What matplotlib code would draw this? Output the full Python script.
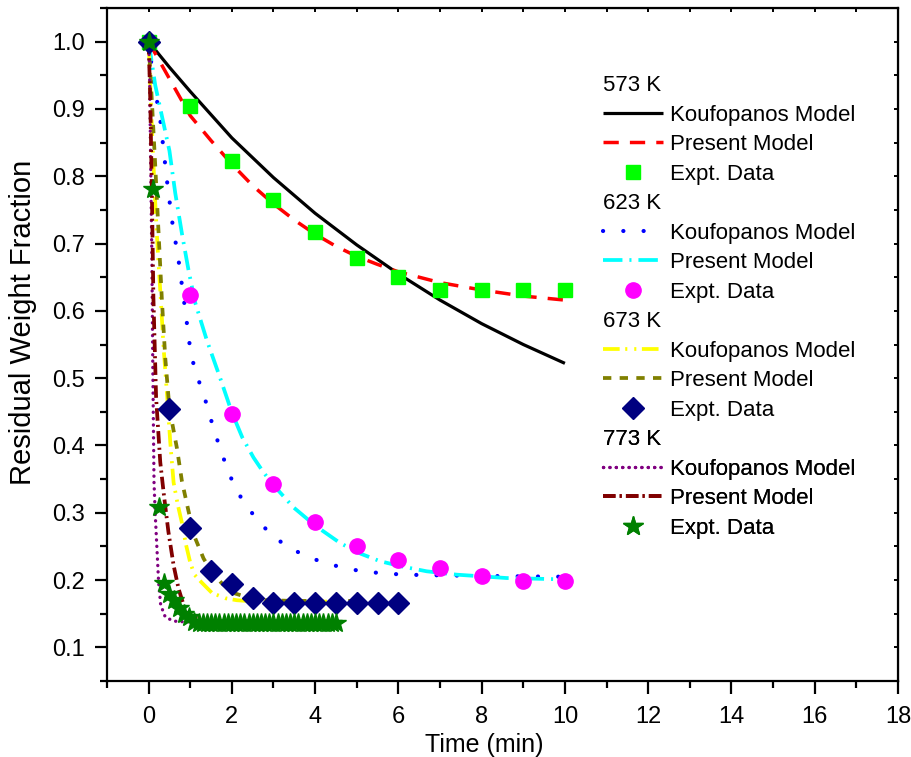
import matplotlib
matplotlib.use("Agg")
import matplotlib.pyplot as plt
from matplotlib.ticker import MultipleLocator, FormatStrFormatter

plt.rcParams['font.family'] = ['Liberation Sans', 'DejaVu Sans']
plt.rcParams['lines.scale_dashes'] = False

# ---- 573 K ----
t_573_kouf = [0, 0.5, 1, 2, 3, 4, 5, 6, 7, 8, 9, 10]
w_573_kouf = [1.0, 0.962, 0.926, 0.857, 0.798, 0.745, 0.698, 0.655, 0.616, 0.581, 0.550, 0.522]
t_573_pres = [0, 0.5, 1, 1.5, 2, 2.5, 3, 3.5, 4, 4.5, 5, 5.5, 6, 7, 8, 9, 10]
w_573_pres = [1.0, 0.945, 0.890, 0.853, 0.818, 0.786, 0.759, 0.735, 0.714, 0.696, 0.681,
              0.669, 0.658, 0.642, 0.631, 0.622, 0.616]
t_573_expt = [0, 1, 2, 3, 4, 5, 6, 7, 8, 9, 10]
w_573_expt = [1.0, 0.905, 0.823, 0.764, 0.717, 0.679, 0.651, 0.631, 0.631, 0.631, 0.631]

# ---- 623 K ----
t_623_kouf = [0, 0.12, 0.28, 0.44, 0.56, 0.72, 0.9, 0.96, 1.04, 1.12, 1.2, 1.36, 1.49, 1.64,
              1.8, 1.96, 2.24, 2.6, 3.0, 3.44, 3.88, 4.32, 4.76, 5.24, 5.68, 6.12, 7.0, 8.2, 9.7, 10]
w_623_kouf = [1.0, 0.941, 0.884, 0.794, 0.735, 0.675, 0.592, 0.560, 0.530, 0.512, 0.497, 0.468,
              0.440, 0.410, 0.381, 0.354, 0.320, 0.290, 0.264, 0.246, 0.233, 0.224, 0.217, 0.212,
              0.210, 0.208, 0.207, 0.206, 0.205, 0.205]
t_623_pres = [0, 0.16, 0.5, 0.64, 0.8, 0.96, 1.12, 1.4, 1.72, 2.0, 2.25, 2.52, 2.76, 3.0, 3.48,
              4.0, 4.6, 5.1, 5.56, 6.1, 6.68, 7.4, 8.6, 10]
w_623_pres = [1.0, 0.935, 0.838, 0.775, 0.715, 0.660, 0.612, 0.556, 0.500, 0.449, 0.412, 0.382,
              0.360, 0.341, 0.308, 0.281, 0.255, 0.239, 0.228, 0.220, 0.213, 0.208, 0.203, 0.201]
t_623_expt = [0, 1, 2, 3, 4, 5, 6, 7, 8, 9, 10]
w_623_expt = [1.0, 0.624, 0.447, 0.343, 0.286, 0.250, 0.230, 0.218, 0.206, 0.199, 0.199]

# ---- 673 K ----
t_673_kouf = [0, 0.05, 0.1, 0.16, 0.22, 0.29, 0.36, 0.44, 0.52, 0.6, 0.7, 0.8, 0.9, 1.0, 1.1,
              1.28, 1.52, 1.84, 2.12, 2.6, 3, 4, 5]
w_673_kouf = [1.0, 0.92, 0.84, 0.76, 0.69, 0.62, 0.545, 0.478, 0.405, 0.345, 0.312, 0.285, 0.252,
              0.226, 0.208, 0.196, 0.181, 0.173, 0.170, 0.168, 0.168, 0.168, 0.168]
t_673_pres = [0, 0.08, 0.16, 0.24, 0.32, 0.4, 0.5, 0.68, 0.8, 0.96, 1.12, 1.32, 1.52, 1.76,
              2.08, 2.44, 2.84, 3.5, 4, 5]
w_673_pres = [1.0, 0.91, 0.815, 0.715, 0.615, 0.53, 0.455, 0.396, 0.347, 0.302, 0.262, 0.232,
              0.212, 0.195, 0.180, 0.173, 0.170, 0.169, 0.169, 0.169]
t_673_expt = [0, 0.5, 1, 1.5, 2, 2.5, 3, 3.5, 4, 4.5, 5, 5.5, 6]
w_673_expt = [1.0, 0.454, 0.278, 0.213, 0.194, 0.174, 0.166, 0.166, 0.166, 0.166, 0.166, 0.166, 0.166]

# ---- 773 K ----
t_773_kouf = [0, 0.02, 0.05, 0.08, 0.1, 0.13, 0.16, 0.2, 0.24, 0.29, 0.4, 0.6, 0.84, 1.0]
w_773_kouf = [1.0, 0.969, 0.819, 0.670, 0.521, 0.345, 0.297, 0.247, 0.197, 0.163, 0.145, 0.139,
              0.138, 0.138]
t_773_pres = [0, 0.04, 0.08, 0.115, 0.18, 0.28, 0.37, 0.475, 0.6, 0.72, 0.84, 1.0, 1.28, 1.6,
              2.0, 3.0, 4.5]
w_773_pres = [1.0, 0.915, 0.77, 0.62, 0.471, 0.375, 0.325, 0.272, 0.222, 0.187, 0.163, 0.148,
              0.140, 0.137, 0.136, 0.136, 0.136]
t_773_expt = [0, 0.115, 0.26, 0.37, 0.48, 0.6, 0.72, 0.84, 0.96, 1.1, 1.2, 1.3, 1.4, 1.5, 1.6,
              1.7, 1.8, 1.9, 2.0, 2.1, 2.2, 2.3, 2.4, 2.5, 2.6, 2.7, 2.8, 2.9, 3.0, 3.1, 3.2,
              3.3, 3.4, 3.5, 3.6, 3.7, 3.8, 3.9, 4.0, 4.1, 4.2, 4.3, 4.4, 4.5]
w_773_expt = [1.0, 0.781, 0.309, 0.195, 0.180, 0.170, 0.158, 0.150, 0.145, 0.138, 0.136, 0.136,
              0.136, 0.136, 0.136, 0.136, 0.136, 0.136, 0.136, 0.136, 0.136, 0.136, 0.136, 0.136,
              0.136, 0.136, 0.136, 0.136, 0.136, 0.136, 0.136, 0.136, 0.136, 0.136, 0.136, 0.136,
              0.136, 0.136, 0.136, 0.136, 0.136, 0.136, 0.136, 0.136]

temps = ["573 K", "623 K", "673 K", "773 K"]
LBL_K = "Koufopanos Model"
LBL_P = "Present Model"
LBL_E = "Expt. Data"

FS = 16

fig = plt.figure(figsize=(9.12, 7.57), dpi=100)
ax = fig.add_axes([0.1173, 0.1004, 0.8673, 0.889])

# model curves
k573, = ax.plot(t_573_kouf, w_573_kouf, color='black', lw=2.3, solid_capstyle='butt')
p573, = ax.plot(t_573_pres, w_573_pres, color='red', lw=2.5, dashes=(11, 8))
k623, = ax.plot(t_623_kouf, w_623_kouf, color='blue', lw=3.0, dashes=(0.1, 14.5),
                dash_capstyle='round')
p623, = ax.plot(t_623_pres, w_623_pres, color='cyan', lw=2.7, dashes=(14, 5, 1.5, 5))
k673, = ax.plot(t_673_kouf, w_673_kouf, color='yellow', lw=2.7, dashes=(12, 4, 1.5, 5, 1.5, 4))
p673, = ax.plot(t_673_pres, w_673_pres, color='olive', lw=2.7, dashes=(6, 6))
k773, = ax.plot(t_773_kouf, w_773_kouf, color='purple', lw=2.4, dashes=(0.1, 4.5),
                dash_capstyle='round')
p773, = ax.plot(t_773_pres, w_773_pres, color='maroon', lw=2.7, dashes=(9, 3, 1.5, 3))

# experimental points
e573, = ax.plot(t_573_expt, w_573_expt, ls='none', marker='s', ms=9.5, color='#00ff00',
                mec='#00ff00', zorder=4)
e623, = ax.plot(t_623_expt, w_623_expt, ls='none', marker='o', ms=11, color='#ff00ff',
                mec='#ff00ff', zorder=4)
e673, = ax.plot(t_673_expt, w_673_expt, ls='none', marker='D', ms=11.5, color='#000080',
                mec='#000080', zorder=5)
e773, = ax.plot(t_773_expt, w_773_expt, ls='none', marker='*', ms=15, color='#008000',
                mec='#008000', zorder=6)

ax.set_xlim(-1, 18)
ax.set_ylim(0.05, 1.05)
ax.xaxis.set_major_locator(MultipleLocator(2))
ax.xaxis.set_minor_locator(MultipleLocator(1))
ax.yaxis.set_major_locator(MultipleLocator(0.1))
ax.yaxis.set_minor_locator(MultipleLocator(0.05))
ax.yaxis.set_major_formatter(FormatStrFormatter('%.1f'))
ax.set_xticks([0, 2, 4, 6, 8, 10, 12, 14, 16, 18])

for sp in ax.spines.values():
    sp.set_linewidth(1.6)
ax.tick_params(which='major', direction='out', length=9, width=1.6, labelsize=17)
ax.tick_params(which='minor', direction='out', length=5, width=1.6)
ax.tick_params(axis='x', which='major', pad=9)
ax.tick_params(axis='y', which='major', pad=7)

# inward ticks on top and right
secx = ax.secondary_xaxis('top')
secx.xaxis.set_major_locator(MultipleLocator(2))
secx.xaxis.set_minor_locator(MultipleLocator(1))
secx.tick_params(which='both', direction='in', length=3, width=1.4, labeltop=False)
secy = ax.secondary_yaxis('right')
secy.yaxis.set_major_locator(MultipleLocator(0.1))
secy.yaxis.set_minor_locator(MultipleLocator(0.05))
secy.tick_params(which='both', direction='in', length=3, width=1.4, labelright=False)

ax.set_xlabel("Time (min)", fontsize=18)
ax.xaxis.set_label_coords(0.477, -0.077)
ax.set_ylabel("Residual Weight Fraction", fontsize=21)
ax.yaxis.set_label_coords(-0.089, 0.533)

# legend: one block per temperature
groups = [(k573, p573, e573), (k623, p623, e623), (k673, p673, e673), (k773, p773, e773)]
top0 = 0.9
pitch = 0.1753
for i, (temp, hs) in enumerate(zip(temps, groups)):
    leg = ax.legend(hs, [LBL_K, LBL_P, LBL_E], title=temp, loc='upper left',
                    bbox_to_anchor=(0.627, top0 - i * pitch), frameon=False, fontsize=FS,
                    title_fontsize=FS, alignment='left', borderpad=0, borderaxespad=0,
                    labelspacing=0.38, handlelength=2.7, handletextpad=0.3, numpoints=1)
    ax.add_artist(leg)

fig.savefig("out.png", dpi=100)
